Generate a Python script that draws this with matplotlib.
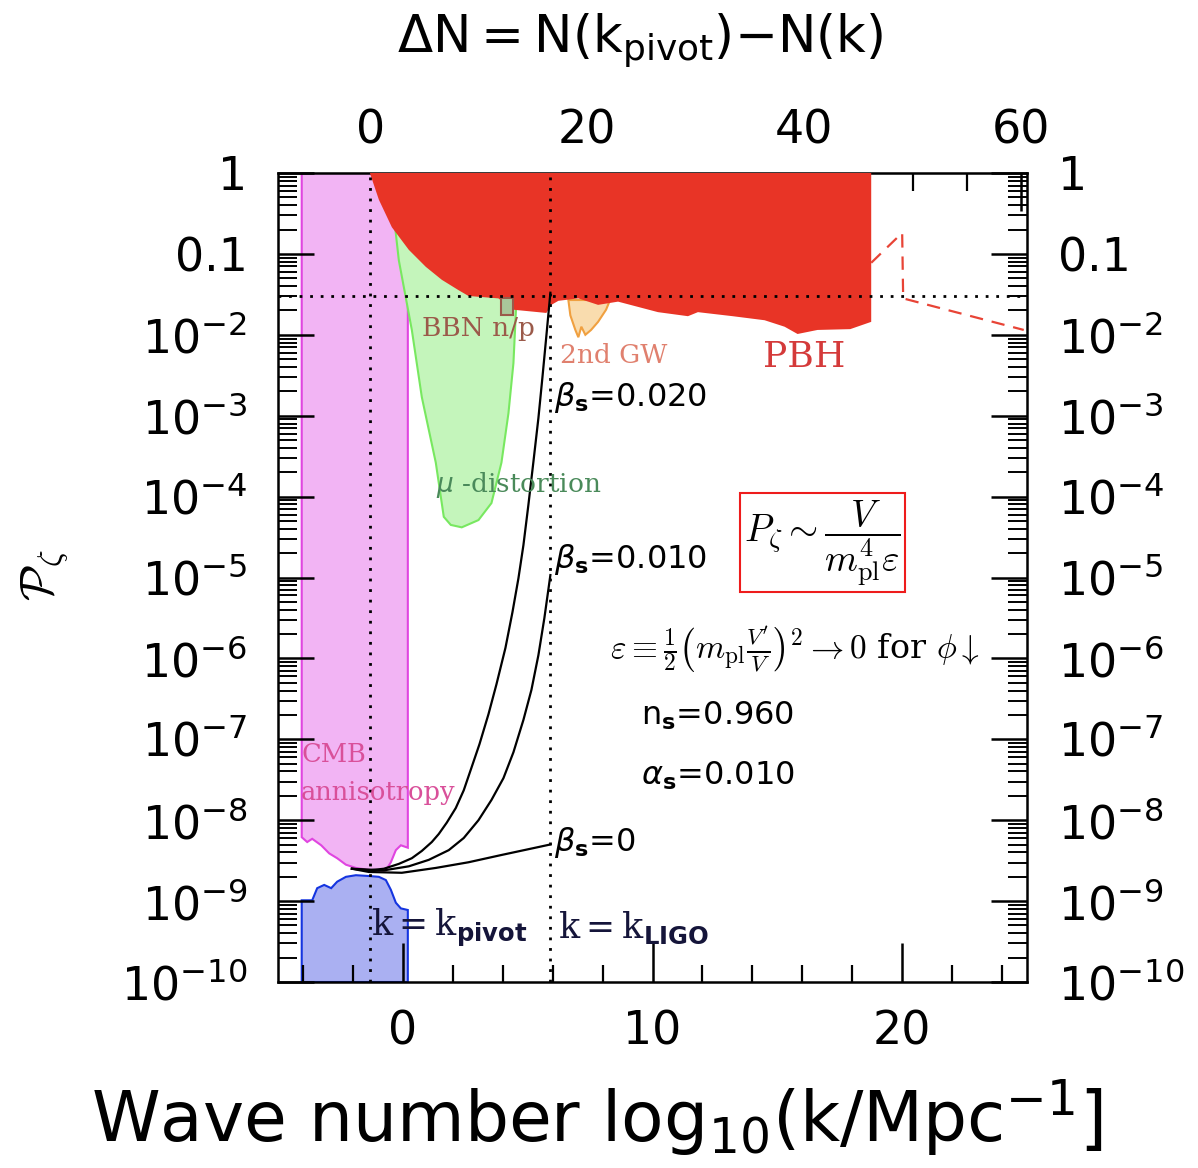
import numpy as np
import matplotlib.pyplot as plt
from matplotlib.ticker import FixedLocator, MultipleLocator, LogLocator, NullFormatter

plt.rcParams['mathtext.fontset'] = 'dejavusans'
plt.rcParams['font.family'] = ['DejaVu Sans']

# all positions are log10(k/Mpc^-1) and log10(P_zeta)
logk_pivot = -1.3
logk_ligo = 5.9
logP_line = -1.52

# CMB anisotropy region (pink)
cmb_logk = [-4.05, -4.05, -3.83, -3.63, -3.27, -2.95, -2.63, -2.28, -1.88, -1.24, -0.68,
            -0.48, -0.28, -0.08, 0.2, 0.2]
cmb_logP = [0, -8.21, -8.27, -8.23, -8.31, -8.41, -8.47, -8.55, -8.59, -8.62, -8.62,
            -8.52, -8.37, -8.31, -8.34, 0]

# measured CMB amplitude (blue)
obs_logk = [-4.05, -4.05, -3.63, -3.43, -3.15, -2.87, -2.63, -2.28, -1.88, -1.36, -0.96,
            -0.68, -0.48, -0.28, -0.08, 0.2, 0.2]
obs_logP = [-10, -8.99, -8.99, -8.84, -8.80, -8.84, -8.76, -8.70, -8.68, -8.69, -8.70,
            -8.74, -8.86, -9.02, -9.09, -9.11, -10]

# mu-distortion (green)
mu_logk = [-0.32, -0.16, 0.36, 0.76, 1.32, 1.64, 1.92, 2.36, 3.03, 3.55, 3.95, 4.23, 4.43, 4.55, 3.83]
mu_logP = [-0.64, -1.08, -1.94, -2.77, -3.58, -4.25, -4.35, -4.38, -4.29, -4.08, -3.58, -2.97,
           -2.35, -1.57, -1.20]

# 2nd order GW (orange)
gw_logk = [6.63, 6.71, 6.91, 7.03, 7.15, 7.31, 7.54, 7.82, 8.14, 8.30]
gw_logP = [-1.57, -1.76, -1.94, -2.03, -1.90, -2.00, -1.94, -1.84, -1.69, -1.57]

# BBN n/p box
bbn_logk = [3.95, 4.43, 4.43, 3.95]
bbn_logP = [-1.55, -1.55, -1.76, -1.76]

# PBH (red)
pbh_logk = [-1.32, -0.96, -0.44, 0.24, 0.92, 1.56, 2.24, 2.63, 3.83, 4.43, 5.75, 5.95, 6.23,
            7.03, 7.82, 8.62, 10.22, 11.42, 11.82, 13.21, 14.49, 15.29, 15.81, 16.61, 17.92,
            18.48, 18.76, 18.76]
pbh_logP = [0, -0.33, -0.67, -0.95, -1.16, -1.32, -1.45, -1.52, -1.55, -1.69, -1.73, -1.63,
            -1.58, -1.55, -1.63, -1.59, -1.72, -1.77, -1.72, -1.77, -1.82, -1.90, -1.99,
            -1.94, -1.93, -1.87, -1.84, 0]
pbh_dash_logk = [18.76, 20.0, 20.04, 24.87]
pbh_dash_logP = [-1.11, -0.74, -1.55, -1.94]

# running of running curves (beta_s = 0.020, 0.010, 0)
b20_logk = [-2.04, -1.36, -0.76, -0.16, 0.36, 0.76, 1.16, 1.44, 1.76, 2.12, 2.44, 2.75, 3.07,
            3.43, 3.75, 4.11, 4.39, 4.63, 4.83, 5.03, 5.23, 5.43, 5.59, 5.75, 5.91]
b20_logP = [-8.60, -8.62, -8.60, -8.54, -8.47, -8.38, -8.27, -8.17, -8.03, -7.85, -7.63, -7.35,
            -7.06, -6.69, -6.32, -5.87, -5.43, -5.01, -4.60, -4.10, -3.57, -3.03, -2.53,
            -2.01, -1.48]
b10_logk = [-2.04, -0.76, 0.24, 1.04, 1.84, 2.44, 3.03, 3.55, 4.03, 4.43, 4.83, 5.15, 5.43,
            5.67, 5.91]
b10_logP = [-8.60, -8.62, -8.57, -8.49, -8.37, -8.22, -8.00, -7.75, -7.48, -7.16, -6.76, -6.39,
            -5.96, -5.50, -4.97]
b0_logk = [-2.04, -1.36, -0.04, 1.32, 2.63, 3.95, 5.31, 5.91]
b0_logP = [-8.60, -8.64, -8.65, -8.59, -8.52, -8.43, -8.34, -8.30]

ytick_vals = [0, -1, -2, -3, -4, -5, -6, -7, -8, -9, -10]
ytick_labels = ['1', '0.1'] + [r'$10^{-%d}$' % i for i in range(2, 11)]


def P(v):
    return 10.0 ** np.asarray(v)


fig = plt.figure(figsize=(11.98, 11.68), dpi=100)
ax = fig.add_axes([278 / 1198, 1 - 982 / 1168, (1027 - 278) / 1198, (982 - 173) / 1168])
ax.set_yscale('log')
ax.set_xlim(-5, 25)
ax.set_ylim(1e-10, 1)

ax.fill(cmb_logk, P(cmb_logP), fc='#f2b4f4', ec='#e045e0', lw=1.5, zorder=1)
ax.fill(obs_logk, P(obs_logP), fc='#aab0f2', ec='#1535e0', lw=1.5, zorder=1)
ax.fill(mu_logk, P(mu_logP), fc='#c4f5bb', ec='#78e860', lw=1.5, zorder=2)
ax.fill(gw_logk, P(gw_logP), fc='#f9dcae', ec='#f0a040', lw=1.5, zorder=2)
ax.fill(pbh_logk, P(pbh_logP), fc='#e83426', ec='none', zorder=3)
ax.fill(bbn_logk, P(bbn_logP), fc='#a9c89a', ec='#9b5a4a', lw=1.5, zorder=4)
ax.plot(pbh_dash_logk, P(pbh_dash_logP), color='#e84436', lw=1.6, ls=(0, (6, 4)), zorder=3)

dots = (0, (1, 2.8))
ax.axvline(logk_pivot, color='k', lw=2, ls=dots, zorder=5)
ax.axvline(logk_ligo, color='k', lw=2, ls=dots, zorder=5)
ax.axhline(10 ** logP_line, color='k', lw=2, ls=dots, zorder=5)

for xs, ys in [(b20_logk, b20_logP), (b10_logk, b10_logP), (b0_logk, b0_logP)]:
    ax.plot(xs, P(ys), color='k', lw=1.6, zorder=6, solid_joinstyle='round')

# labels inside
ser = 'DejaVu Serif'
ax.text(0.76, P(-1.92), 'BBN n/p', color='#9b5a4a', fontsize=19, family=ser, va='center', zorder=7)
ax.text(6.31, P(-2.25), '2nd GW', color='#e0806e', fontsize=19, family=ser, va='center', zorder=7)
ax.text(14.41, P(-2.27), 'PBH', color='#d43a3a', fontsize=26, family=ser, va='center', zorder=7)
ax.text(1.32, P(-3.86), r'$\mu$ -distortion', color='#4a8a5a', fontsize=19, family=ser,
        va='center', zorder=7)
ax.text(-4.07, P(-7.19), 'CMB', color='#d9509a', fontsize=18.5, family=ser, va='center', zorder=7)
ax.text(-4.07, P(-7.66), 'annisotropy', color='#d9509a', fontsize=18.5, family=ser, va='center',
        zorder=7)
ax.text(-1.28, P(-9.33), r'k$=$k$_{\mathbf{pivot}}$', color='#15153a', fontsize=25, family=ser,
        va='center', zorder=7)
ax.text(6.23, P(-9.33), r'k$=$k$_{\mathbf{LIGO}}$', color='#15153a', fontsize=25, family=ser,
        va='center', zorder=7)
ax.text(6.07, P(-2.77), r'$\beta_{\mathbf{s}}$=0.020', fontsize=23, va='center', zorder=7)
ax.text(6.07, P(-4.78), r'$\beta_{\mathbf{s}}$=0.010', fontsize=23, va='center', zorder=7)
ax.text(6.07, P(-8.28), r'$\beta_{\mathbf{s}}$=0', fontsize=23, va='center', zorder=7)
ax.text(9.54, P(-6.71), r'n$_{\mathbf{s}}$=0.960', fontsize=23, va='center', zorder=7)
ax.text(9.54, P(-7.45), r'$\alpha_{\mathbf{s}}$=0.010', fontsize=23, va='center', zorder=7)
ax.text(16.81, P(-4.57), r'$P_\zeta \sim \dfrac{V}{m_{\rm pl}^4\varepsilon}$', fontsize=27,
        math_fontfamily='cm', ha='center', va='center', zorder=7,
        bbox=dict(boxstyle='square,pad=0.12', fc='white', ec='#ee1c1c', lw=1.5))
ax.text(8.30, P(-5.90),
        r'$\varepsilon \equiv \frac{1}{2}\left(m_{\rm pl}\frac{V^\prime}{V}\right)^2 \rightarrow 0$'
        r' for $\phi\downarrow$', fontsize=24, math_fontfamily='cm', family=ser,
        va='center', zorder=7)

# axes and ticks
for s in ax.spines.values():
    s.set_linewidth(1.8)
ax.yaxis.set_major_locator(FixedLocator(P(ytick_vals)))
ax.set_yticklabels(ytick_labels)
ax.yaxis.set_minor_locator(LogLocator(base=10, subs=np.arange(2, 10), numticks=20))
ax.yaxis.set_minor_formatter(NullFormatter())
ax.xaxis.set_major_locator(MultipleLocator(10))
ax.xaxis.set_minor_locator(MultipleLocator(2))
ax.tick_params(axis='y', which='major', direction='in', length=26, width=1.8, left=True,
               right=True, labelleft=True, labelright=True, labelsize=33, pad=22)
ax.tick_params(axis='y', which='minor', direction='in', length=14, width=1.4, left=True, right=True)
ax.tick_params(axis='x', which='major', direction='in', length=28, width=1.8, top=False,
               labelsize=33, pad=20)
ax.tick_params(axis='x', which='minor', direction='in', length=12, width=1.6, top=False)

LN10 = np.log(10)
secax = ax.secondary_xaxis('top', functions=(lambda x: LN10 * (x - logk_pivot),
                                             lambda n: n / LN10 + logk_pivot))
secax.xaxis.set_major_locator(FixedLocator([0, 20, 40, 60]))
secax.xaxis.set_minor_locator(MultipleLocator(5))
secax.tick_params(which='major', direction='in', length=27, width=1.8, labelsize=33, pad=14)
secax.tick_params(which='minor', direction='in', length=13, width=1.6)

fig.text(640 / 1198, 1 - 40 / 1168, r'$\Delta$N$=$N(k$_{\rm pivot}$)$-$N(k)', fontsize=37,
         ha='center', va='center')
fig.text(597 / 1198, 1 - 1118 / 1168, r'Wave number log$_{10}$(k/Mpc$^{-1}$]', fontsize=50,
         ha='center', va='center')
fig.text(45 / 1198, 1 - 575 / 1168, r'$\mathcal{P}_\zeta$', fontsize=34, rotation=90,
         ha='center', va='center', math_fontfamily='cm')

fig.savefig('out.png', dpi=100)
